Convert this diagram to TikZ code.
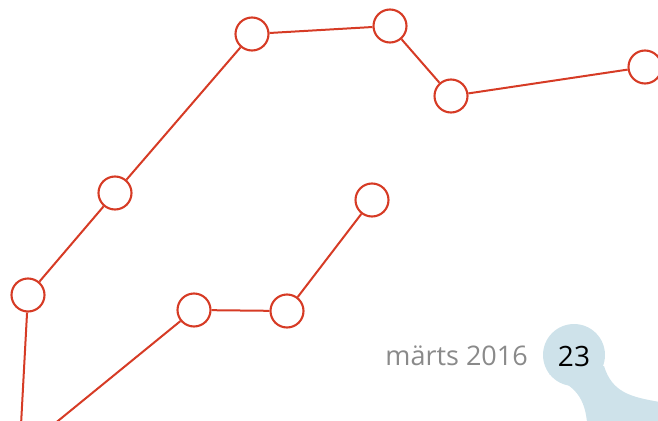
\documentclass[tikz,border=0pt]{standalone}
\usepackage{fontspec}
\setmainfont{Open Sans}
\definecolor{dotred}{HTML}{D63B25}
\definecolor{blobblue}{HTML}{CEE2EA}
\definecolor{dategray}{HTML}{8A8A8A}
\tikzset{
  dot/.style={circle,draw=dotred,line width=2.1pt,minimum size=33pt,inner sep=0pt},
  link/.style={draw=dotred,line width=2pt},
}
\begin{document}
\begin{tikzpicture}[x=1pt,y=1pt,yscale=-1,xscale=1]
			\path[use as bounding box] (0,0) rectangle (658,420);
			\clip (0,0) rectangle (658,420);

			%Shape: page blob
			\fill[blobblue] (574,355) circle (31);
			\fill[blobblue] (549,374) .. controls (570,385) and (584,392) .. (587,422) -- (660,422) -- (660,402) .. controls (630,397) and (612,392) .. (604,366) -- cycle ;

			%Shape: Circles, upper chain
			\node[dot] (f) at (28,295) {};
			\node[dot] (e) at (115,193) {};
			\node[dot] (a) at (252,34) {};
			\node[dot] (b) at (390,26) {};
			\node[dot] (c) at (451,96) {};
			\node[dot] (d) at (645,67) {};
			%Shape: Circles, lower chain
			\node[dot] (g) at (194,310) {};
			\node[dot] (h) at (287,311) {};
			\node[dot] (i) at (372,200) {};
			\coordinate (fout) at (21,425);
			\coordinate (gout) at (53,425);

			%Straight Lines
			\draw[link] (fout) -- (f) -- (e) -- (a) -- (b) -- (c) -- (d) ;
			\draw[link] (gout) -- (g) -- (h) -- (i) ;

			% Text Node
			\node[text=dategray,font=\fontsize{27}{32}\selectfont,anchor=east,inner sep=0pt] (date) at (528,356) {märts 2016};
			% Text Node
			\node[text=black,font=\fontsize{28}{32}\selectfont,inner sep=0pt] (page) at (574,356) {23};
\end{tikzpicture}
\end{document}
